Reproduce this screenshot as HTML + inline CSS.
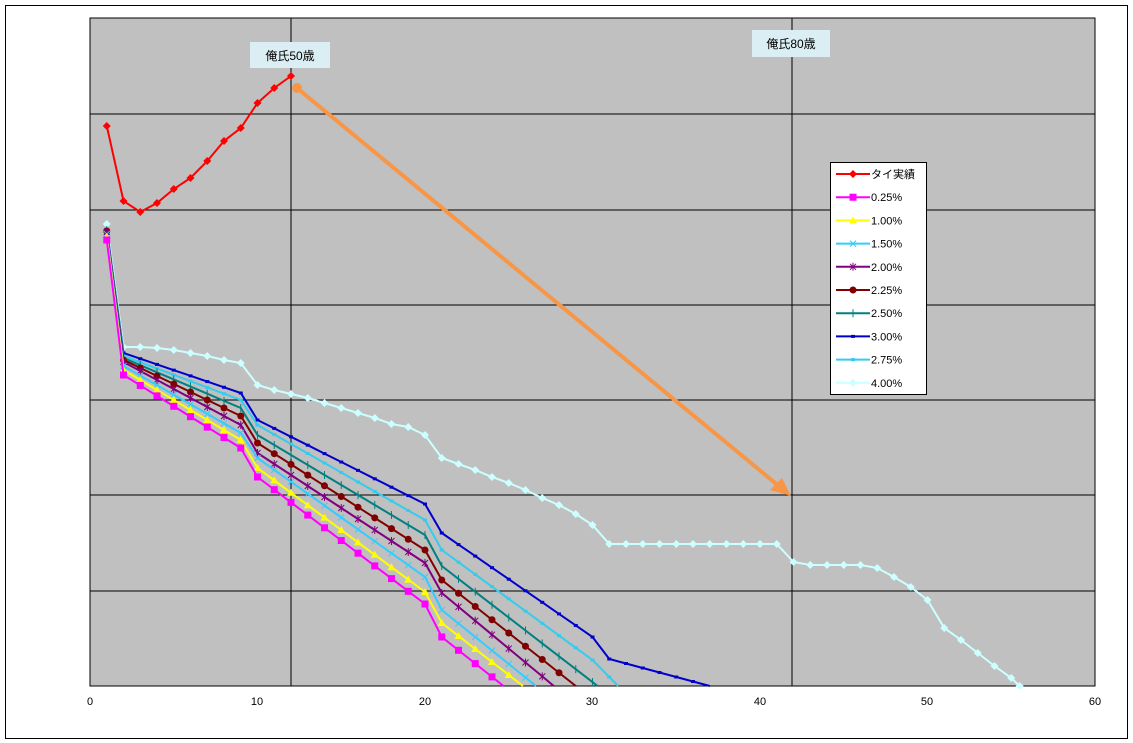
<!DOCTYPE html><html><head><meta charset="utf-8"><style>body{margin:0;background:#fff}svg{display:block}text{font-family:"Liberation Sans","Noto Sans CJK JP",sans-serif}</style></head><body>
<svg id="s" width="1133" height="743" xmlns="http://www.w3.org/2000/svg">
<rect x="5.5" y="5.5" width="1122" height="733" fill="#fff" stroke="#000"/>
<rect x="90" y="18" width="1005" height="668" fill="#c0c0c0" stroke="#000"/>
<g stroke="#000" stroke-width="1">
<line x1="90" x2="1095" y1="114" y2="114"/><line x1="90" x2="1095" y1="210" y2="210"/><line x1="90" x2="1095" y1="305" y2="305"/><line x1="90" x2="1095" y1="400" y2="400"/><line x1="90" x2="1095" y1="495" y2="495"/><line x1="90" x2="1095" y1="591" y2="591"/>
<line x1="291" x2="291" y1="18" y2="686"/><line x1="792" x2="792" y1="18" y2="686"/>
</g>
<g font-size="11" text-anchor="middle" fill="#000">
<text x="90" y="705">0</text><text x="257" y="705">10</text><text x="425" y="705">20</text><text x="592" y="705">30</text><text x="760" y="705">40</text><text x="927" y="705">50</text><text x="1095" y="705">60</text></g>
<g id="series"></g>
<line x1="297" y1="88" x2="780" y2="487" stroke="#f79646" stroke-width="4"/>
<polygon points="791,496 770,490 782,478" fill="#f79646"/>
<circle cx="297" cy="88" r="5" fill="#f79646"/>
<rect x="250" y="42" width="80" height="26" fill="#dbeef4"/><text x="290" y="60" font-size="12" text-anchor="middle">俺氏50歳</text>
<rect x="752" y="30" width="78" height="27" fill="#dbeef4"/><text x="791" y="48" font-size="12" text-anchor="middle">俺氏80歳</text>
<rect x="830.5" y="162.5" width="96" height="232" fill="#fff" stroke="#000"/>
<g id="leg" font-size="11"></g>
</svg>
<script>
var X=function(v){return 90+v*16.75};
function lin(pts,slope){var o=[];var ks=[];for(var k in pts)ks.push(+k);ks.sort(function(a,b){return a-b});
for(var x=1;x<=60;x++){var y;if(pts[x]!==undefined)y=pts[x];else{var a=null,b=null;for(var i=0;i<ks.length;i++){if(ks[i]<x)a=ks[i];if(ks[i]>x&&b===null)b=ks[i];}
if(b!==null)y=pts[a]+(pts[b]-pts[a])*(x-a)/(b-a);else y=pts[a]+slope*(x-a);}
if(y>=686){var px=o[o.length-1];o.push([px[0]+(686-px[1])/(y-px[1]),686]);break;}o.push([x,y]);}return o;}
var S=[
["#ff00ff","sq",lin({1:240,2:375,9:448,10:477,20:604,21:637},13.3)],
["#ffff00","tri",lin({1:237,2:370,9:440,10:468,20:592,21:623},13)],
["#33ccff","x",lin({1:234,2:366,9:433,10:458,20:577,21:610},13.5)],
["#800080","st",lin({1:232,2:362,9:425,10:453,20:563,21:593},13.9)],
["#800000","ci",lin({1:231,2:360,9:416,10:443,20:550,21:580},13.25)],
["#008080","pl",lin({1:230,2:358,9:408,10:435,20:535,21:566},12.9)],
["#0000cc","da",lin({1:229,2:353,9:393,10:420,20:504,21:533,30:637,31:659},4.5)],
["#33ccee","da",lin({1:229,2:356,9:400,10:425,20:520,21:550,30:660},17)],
["#ccffff","di",[[1,224],[2,347],[3,347],[4,348],[5,350],[6,353],[7,356],[8,360],[9,363],[10,385],[11,390],[12,394],[13,398],[14,403],[15,408],[16,413],[17,418],[18,424],[19,427],[20,435],[21,458],[22,464],[23,470],[24,477],[25,483],[26,490],[27,498],[28,505],[29,514],[30,525],[31,544],[32,544],[33,544],[34,544],[35,544],[36,544],[37,544],[38,544],[39,544],[40,544],[41,544],[42,562],[43,565],[44,565],[45,565],[46,565],[47,568],[48,577],[49,587],[50,600],[51,628],[52,640],[53,653],[54,666],[55,678],[55.5,686]]],
["#ff0000","di",[[1,126],[2,201],[3,212],[4,203],[5,189],[6,178],[7,161],[8,141],[9,128],[10,103],[11,88],[12,76]]]];
function mk(t,c,x,y){var r=3.5;
if(t=="sq")return '<rect x="'+(x-r)+'" y="'+(y-r)+'" width="7" height="7" fill="'+c+'"/>';
if(t=="tri")return '<polygon points="'+x+','+(y-4)+' '+(x-4)+','+(y+3)+' '+(x+4)+','+(y+3)+'" fill="'+c+'"/>';
if(t=="x")return '<path d="M'+(x-3)+' '+(y-3)+'L'+(x+3)+' '+(y+3)+'M'+(x+3)+' '+(y-3)+'L'+(x-3)+' '+(y+3)+'" stroke="'+c+'"/>';
if(t=="st")return '<path d="M'+(x-3)+' '+(y-3)+'L'+(x+3)+' '+(y+3)+'M'+(x+3)+' '+(y-3)+'L'+(x-3)+' '+(y+3)+'M'+x+' '+(y-4)+'L'+x+' '+(y+4)+'" stroke="'+c+'"/>';
if(t=="ci")return '<circle cx="'+x+'" cy="'+y+'" r="3.5" fill="'+c+'"/>';
if(t=="pl")return '<path d="M'+x+' '+(y-4)+'L'+x+' '+(y+4)+'" stroke="'+c+'"/>';
if(t=="da")return '<rect x="'+(x-2)+'" y="'+(y-1.5)+'" width="4" height="3" fill="'+c+'"/>';
if(t=="di")return '<polygon points="'+x+','+(y-4)+' '+(x+4)+','+y+' '+x+','+(y+4)+' '+(x-4)+','+y+'" fill="'+c+'"/>';}
var h='';
var order=[8,6,7,5,4,3,2,1,0,9];
order.forEach(function(i){var s=S[i];var p=s[2].map(function(q){return X(q[0]).toFixed(1)+','+q[1]}).join(' ');
h+='<polyline points="'+p+'" fill="none" stroke="'+s[0]+'" stroke-width="2"/>';
s[2].forEach(function(q){if(q[1]<686||i==8)h+=mk(s[1],s[0],X(q[0]),q[1]);});});
document.getElementById('series').innerHTML=h;
var L=[["タイ実績",9],["0.25%",0],["1.00%",1],["1.50%",2],["2.00%",3],["2.25%",4],["2.50%",5],["3.00%",6],["2.75%",7],["4.00%",8]];
var g='';L.forEach(function(l,k){var y=174+k*23.2;var s=S[l[1]];g+='<line x1="836" x2="870" y1="'+y+'" y2="'+y+'" stroke="'+s[0]+'" stroke-width="2"/>'+mk(s[1],s[0],853,y)+'<text x="871" y="'+(y+4)+'">'+l[0]+'</text>';});
document.getElementById('leg').innerHTML=g;
</script></body></html>
